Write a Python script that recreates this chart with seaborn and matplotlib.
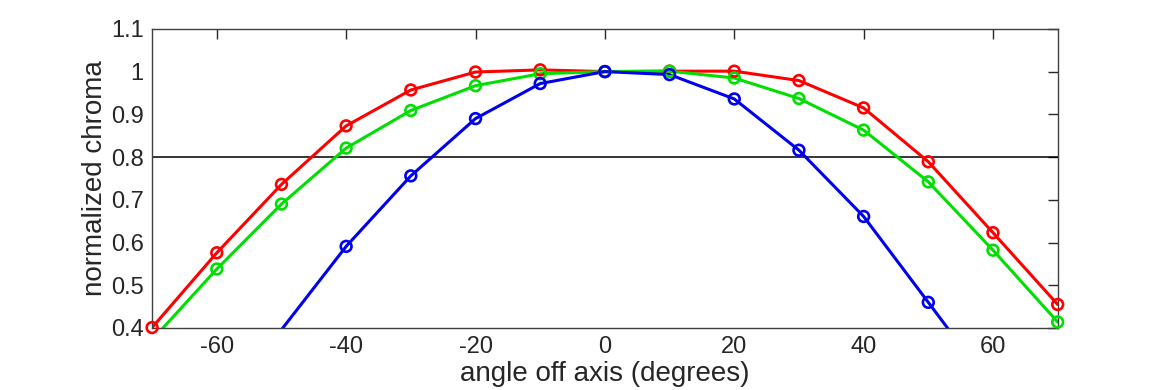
import matplotlib
matplotlib.use("Agg")
import matplotlib.pyplot as plt
import seaborn as sns
import pandas as pd

angles = [-70, -60, -50, -40, -30, -20, -10, 0, 10, 20, 30, 40, 50, 60, 70]
red = [0.401, 0.576, 0.736, 0.873, 0.957, 0.999, 1.004, 1.000, 1.001, 1.001, 0.979, 0.915, 0.789, 0.623, 0.455]
green = [0.372, 0.538, 0.690, 0.821, 0.909, 0.967, 0.995, 1.000, 1.001, 0.985, 0.937, 0.863, 0.742, 0.582, 0.414]
blue = [0.03, 0.21, 0.396, 0.591, 0.756, 0.890, 0.972, 1.000, 0.993, 0.936, 0.816, 0.661, 0.460, 0.258, 0.07]
series_names = ["red", "green", "blue"]
series_colors = ["#ff0000", "#00e000", "#0000ee"]
threshold = 0.8
x_ticks = [-60, -40, -20, 0, 20, 40, 60]
y_ticks = [0.4, 0.5, 0.6, 0.7, 0.8, 0.9, 1.0, 1.1]
y_tick_labels = ["0.4", "0.5", "0.6", "0.7", "0.8", "0.9", "1", "1.1"]

sns.set_style("white")
plt.rcParams["font.family"] = ["Liberation Sans Narrow", "Liberation Sans", "DejaVu Sans"]

df = pd.concat([
    pd.DataFrame({"angle": angles, "chroma": vals, "series": name})
    for name, vals in zip(series_names, [red, green, blue])
])

fig = plt.figure(figsize=(11.7, 3.9), dpi=100)
ax = fig.add_axes([0.130, 0.159, 0.774, 0.767])

ax.axhline(threshold, color="black", linewidth=1.1, zorder=1)

sns.lineplot(data=df, x="angle", y="chroma", hue="series", hue_order=series_names,
             palette=series_colors, linewidth=2.2, legend=False, ax=ax, sort=False,
             zorder=2)

ax.set_xlim(-70, 70)
ax.set_ylim(0.4, 1.1)

# markers only for points inside the axes (not clipped at the frame)
inside = df[(df["chroma"] >= 0.4) & (df["chroma"] <= 1.1)]
sns.scatterplot(data=inside, x="angle", y="chroma", hue="series", hue_order=series_names,
                palette=series_colors, marker="o", s=60, facecolor="none",
                linewidth=1.9, legend=False, ax=ax, clip_on=False, zorder=3)
coll = ax.collections[-1]
name_to_color = dict(zip(series_names, series_colors))
coll.set_edgecolors([name_to_color[s] for s in inside["series"]])
coll.set_facecolors("none")

ax.set_xlim(-70, 70)
ax.set_ylim(0.4, 1.1)
ax.set_xticks(x_ticks)
ax.set_xticklabels([str(t) for t in x_ticks])
ax.set_yticks(y_ticks)
ax.set_yticklabels(y_tick_labels)
ax.tick_params(direction="in", length=7, width=1, colors="#262626", labelsize=17,
               top=True, right=True, labelcolor="#262626", pad=6)
for s in ax.spines.values():
    s.set_color("#404040")
    s.set_linewidth(1)
    s.set_visible(True)
ax.set_xlabel("angle off axis (degrees)", fontsize=20, color="#262626", labelpad=2)
ax.set_ylabel("normalized chroma", fontsize=20, color="#262626", labelpad=2)

fig.savefig("out.png", dpi=100)
